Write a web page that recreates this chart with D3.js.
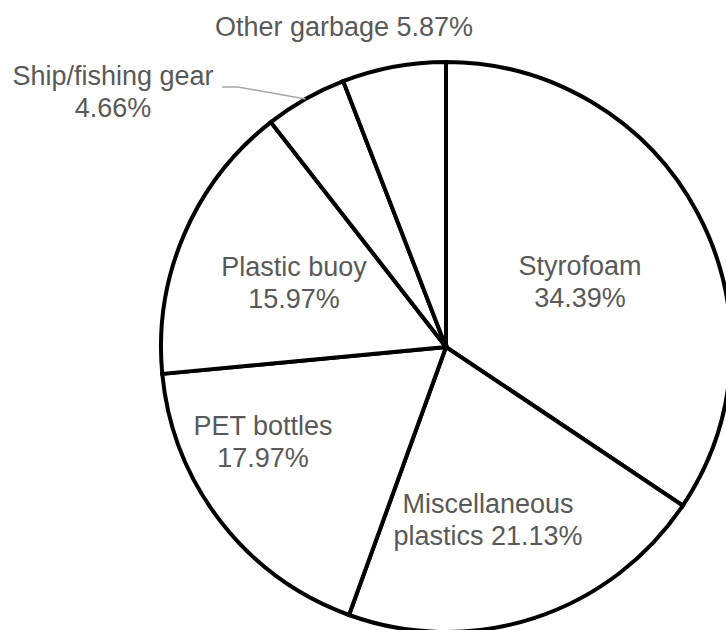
<!DOCTYPE html>
<meta charset="utf-8">
<style>
body { margin: 0; background: #fff; }
.slices path {
  fill: #fff;
  stroke: #000;
  stroke-width: 4px;
  stroke-linejoin: miter;
}
.labels text {
  font-family: "Liberation Sans", Arial, sans-serif;
  font-size: 27px;
  fill: #595959;
}
.leader {
  fill: none;
  stroke: #a6a6a6;
  stroke-width: 1.5px;
}
</style>
<svg width="726" height="630"></svg>
<script src="https://d3js.org/d3.v7.min.js"></script>
<script>
// data, clockwise from 12 o'clock
var categories = ["Styrofoam", "Miscellaneous plastics", "PET bottles", "Plastic buoy", "Ship/fishing gear", "Other garbage"];
var shares = [34.39, 21.13, 17.97, 15.97, 4.66, 5.87];
// how each label is broken into lines ({v} = share)
var labelLines = [
  ["Styrofoam", "{v}%"],
  ["Miscellaneous", "plastics {v}%"],
  ["PET bottles", "{v}%"],
  ["Plastic buoy", "{v}%"],
  ["Ship/fishing gear", "{v}%"],
  ["Other garbage {v}%"]
];

var svg = d3.select("svg"),
    cx = 446,
    cy = 347,
    radius = 285;

// label anchors (centre x, first baseline) relative to pie centre
var labelAnchor = [[134, -72], [42, 166], [-183, 88], [-152, -71], [-333, -262], [-102, -311]];
var lineHeight = 32;

var data = categories.map(function(c, i) { return {name: c, value: shares[i], idx: i}; });

var pie = d3.pie()
    .sort(null)
    .value(function(d) { return d.value; });

var arc = d3.arc()
    .innerRadius(0)
    .outerRadius(radius);

var arcs = pie(data);

var g = svg.append("g")
    .attr("transform", "translate(" + cx + "," + cy + ")");

g.append("g")
    .attr("class", "slices")
  .selectAll("path")
  .data(arcs)
  .enter().append("path")
    .attr("d", arc);

// leader line for the small slice whose label sits outside
var ship = arcs[4];
var mid = (ship.startAngle + ship.endAngle) / 2;
var edge = [radius * Math.sin(mid), -radius * Math.cos(mid)];
var textEnd = labelAnchor[4][0] + 109;
g.append("polyline")
    .attr("class", "leader")
    .attr("points", [[textEnd, labelAnchor[4][1] + 2], [textEnd + 16, labelAnchor[4][1] + 2], edge].join(" "));

var label = g.append("g")
    .attr("class", "labels")
  .selectAll("text")
  .data(arcs)
  .enter().append("text")
    .attr("text-anchor", "middle")
    .attr("x", function(d) { return labelAnchor[d.data.idx][0]; })
    .attr("y", function(d) { return labelAnchor[d.data.idx][1]; });

label.selectAll("tspan")
    .data(function(d) {
      return labelLines[d.data.idx].map(function(s) { return {text: s.replace("{v}", d3.format(".2f")(d.data.value)), x: labelAnchor[d.data.idx][0]}; });
    })
  .enter().append("tspan")
    .attr("x", function(d) { return d.x; })
    .attr("dy", function(d, i) { return i ? lineHeight : 0; })
    .text(function(d) { return d.text; });
</script>
